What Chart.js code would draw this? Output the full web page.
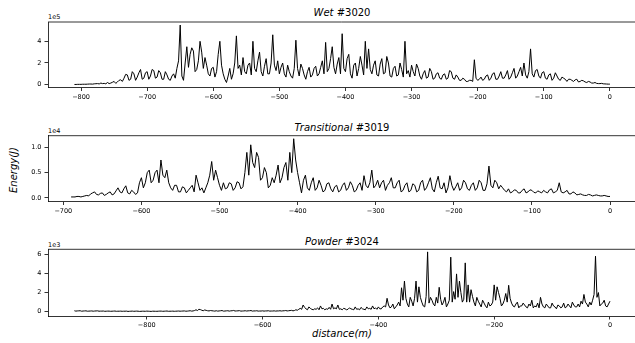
<!DOCTYPE html>
<html lang="en">
<head>
<meta charset="UTF-8">
<title>Energy vs distance</title>
<script src="https://cdn.jsdelivr.net/npm/chart.js"></script>
<style>
  body { margin:0; width:635px; height:343px; overflow:hidden; background:#fff; font-family:"DejaVu Sans", sans-serif; }
  .box { position:absolute; left:0; width:635px; }
  .txt { position:absolute; font-size:10px; line-height:10px; white-space:nowrap; color:#000; }
  .off { position:absolute; left:48px; font-size:6.5px; line-height:6.5px; color:#000; }
  i { font-style:italic; }
</style>
</head>
<body>
<div class="txt" style="left:48px;width:588px;text-align:center;top:8px"><i>Wet</i> #3020</div>
<div class="txt" style="left:48px;width:588px;text-align:center;top:123px"><i>Transitional</i> #3019</div>
<div class="txt" style="left:48px;width:588px;text-align:center;top:237px"><i>Powder</i> #3024</div>
<div class="txt" style="left:48px;width:588px;text-align:center;top:329px"><i>distance(m)</i></div>
<div class="txt" style="left:14px;top:170px;transform:translate(-50%,-50%) rotate(-90deg)"><i>Energy(J)</i></div>
<div class="off" style="top:14px">1e5</div>
<div class="off" style="top:128px">1e4</div>
<div class="off" style="top:242px">1e3</div>

<div class="box" style="top:0;height:110px"><canvas id="c1"></canvas></div>
<div class="box" style="top:113px;height:112px"><canvas id="c2"></canvas></div>
<div class="box" style="top:228px;height:100px"><canvas id="c3"></canvas></div>
<script>
// distances: first reading and spacing (m). *Energy = readings every 5 m,
// *Mid = readings half way between them (the trace is very jagged)
const wetStart = -810, transStart = -690, powderStart = -925, stepM = 5;

// Wet #3020, units of 1e5 J
const wetEnergy = [
  0.02,0.03,0.03,0.04,0.05,0.06,0.08,0.1,0.15,0.12,
  0.2,0.15,0.3,0.25,0.45,0.6,0.9,0.5,1.0,0.7,
  1.4,0.6,1.2,0.8,1.3,0.7,1.1,0.5,0.9,0.4,
  1.0,1.5,5.5,0.4,3.5,2.8,3.1,1.4,4.0,1.5,
  1.8,0.8,1.6,1.2,4.0,1.0,0.2,1.5,1.0,4.5,
  1.8,2.5,1.0,2.0,4.0,1.2,3.0,0.8,2.4,1.0,
  4.6,1.3,1.0,2.0,0.7,1.2,0.6,4.1,0.8,1.5,
  0.5,1.6,0.9,1.7,1.0,2.2,3.9,1.5,3.5,1.0,
  2.5,4.7,1.2,2.8,0.6,2.0,1.5,1.8,4.0,3.3,
  1.0,2.2,0.8,2.4,1.1,2.0,0.7,1.7,0.9,1.4,
  4.0,1.3,1.8,0.8,1.5,0.5,1.3,0.7,1.2,0.6,
  1.1,0.5,1.0,0.6,1.2,0.5,0.7,0.4,0.5,0.3,
  0.4,2.3,0.4,0.7,0.5,0.9,0.6,1.1,0.5,1.2,
  0.6,1.3,0.7,1.5,0.8,1.6,2.0,0.6,3.3,0.7,
  1.4,0.6,1.2,0.5,1.0,0.6,0.8,0.4,0.6,0.3,
  0.5,0.3,0.5,0.3,0.35,0.2,0.25,0.15,0.12,0.1,
  0.08,0.06,0.05
];
const wetMid = [
  0.02,0.03,0.04,0.04,0.06,0.05,0.09,0.07,0.1,0.08,
  0.1,0.22,0.12,0.4,0.3,0.95,0.4,1.2,0.4,1.1,
  0.5,1.1,0.5,1.4,0.6,1.3,0.5,1.2,0.5,0.8,
  0.6,2.2,0.8,2.0,1.6,3.4,1.2,2.2,3.0,2.5,
  1.0,1.5,0.7,2.8,1.8,0.5,0.8,0.5,2.0,1.5,
  0.9,1.2,1.8,0.9,1.5,2.2,1.2,1.7,1.0,2.0,
  1.8,2.2,1.6,1.0,1.8,0.8,1.5,1.5,1.9,0.9,
  1.2,0.7,1.5,0.8,1.6,1.0,1.2,2.4,1.6,1.9,
  1.0,1.5,2.4,1.0,1.8,0.8,2.6,0.9,1.5,1.4,
  1.8,0.9,1.9,1.0,2.6,0.8,1.5,0.8,2.0,0.7,
  1.0,0.7,1.2,1.9,0.8,1.0,0.6,1.5,0.5,1.0,
  0.6,0.9,0.5,1.3,0.6,0.9,0.4,0.6,0.3,0.4,
  0.3,0.6,0.5,0.4,0.8,0.4,1.0,0.5,0.8,0.6,
  0.9,0.5,1.1,0.6,1.2,0.8,0.9,1.2,1.0,1.3,
  0.8,1.1,0.6,0.9,0.4,1.1,0.5,0.7,0.5,0.5,
  0.4,0.45,0.25,0.4,0.25,0.3,0.15,0.2,0.1,0.12,
  0.07,0.05
];

// Transitional #3019, units of 1e4 J
const transEnergy = [
  0.02,0.02,0.03,0.03,0.05,0.08,0.12,0.06,0.1,0.07,
  0.12,0.08,0.2,0.1,0.24,0.08,0.12,0.1,0.4,0.3,
  0.55,0.35,0.55,0.75,0.4,0.3,0.15,0.25,0.12,0.2,
  0.15,0.25,0.45,0.15,0.1,0.3,0.72,0.55,0.25,0.3,
  0.2,0.28,0.2,0.3,0.22,0.9,1.05,0.6,0.8,0.4,
  0.5,0.25,0.3,0.65,0.4,0.7,0.9,1.17,0.5,0.1,
  0.45,0.15,0.4,0.2,0.25,0.15,0.3,0.12,0.25,0.15,
  0.3,0.2,0.25,0.15,0.3,0.44,0.2,0.55,0.25,0.2,
  0.35,0.25,0.4,0.2,0.35,0.15,0.3,0.15,0.25,0.15,
  0.35,0.2,0.4,0.12,0.43,0.18,0.1,0.44,0.15,0.3,
  0.2,0.3,0.15,0.3,0.2,0.3,0.15,0.63,0.2,0.3,
  0.25,0.15,0.18,0.12,0.15,0.1,0.18,0.12,0.15,0.1,
  0.12,0.15,0.1,0.18,0.12,0.3,0.1,0.15,0.08,0.1,
  0.07,0.06,0.05,0.06,0.05,0.05,0.04,0.04,0.03
];
const transMid = [
  0.02,0.03,0.02,0.04,0.04,0.1,0.07,0.09,0.05,0.1,
  0.06,0.14,0.12,0.18,0.1,0.15,0.07,0.3,0.2,0.5,
  0.3,0.5,0.3,0.45,0.55,0.2,0.25,0.12,0.22,0.1,
  0.2,0.12,0.3,0.2,0.2,0.45,0.35,0.4,0.15,0.18,
  0.3,0.15,0.32,0.18,0.5,0.45,0.7,0.9,0.35,0.6,
  0.2,0.4,0.45,0.3,0.6,0.35,0.5,0.75,0.3,0.35,
  0.2,0.3,0.15,0.35,0.12,0.28,0.18,0.22,0.12,0.25,
  0.15,0.32,0.12,0.25,0.15,0.25,0.3,0.2,0.35,0.3,
  0.15,0.3,0.2,0.3,0.12,0.25,0.12,0.28,0.12,0.3,
  0.15,0.3,0.18,0.3,0.2,0.3,0.2,0.25,0.22,0.15,
  0.35,0.18,0.25,0.15,0.35,0.15,0.28,0.25,0.35,0.18,
  0.2,0.12,0.1,0.16,0.1,0.15,0.1,0.16,0.11,0.14,
  0.1,0.12,0.16,0.1,0.15,0.12,0.12,0.08,0.12,0.06,
  0.08,0.05,0.07,0.04,0.06,0.04,0.05,0.03
];

// Powder #3024, units of 1e3 J
const powderEnergy = [
  0.1,0.08,0.1,0.07,0.09,0.06,0.08,0.07,0.09,0.06,
  0.07,0.05,0.06,0.05,0.07,0.05,0.06,0.05,0.06,0.04,
  0.06,0.05,0.05,0.04,0.05,0.06,0.04,0.05,0.04,0.05,
  0.06,0.05,0.07,0.05,0.06,0.05,0.07,0.06,0.08,0.06,
  0.1,0.08,
  0.2,0.25,0.15,0.18,0.1,0.12,0.08,
  0.1,0.08,0.12,0.07,0.1,0.09,0.13,0.08,0.11,0.07,
  0.1,0.09,0.12,0.08,0.1,0.07,0.09,0.08,0.1,0.07,
  0.09,0.08,0.1,0.09,0.12,0.1,0.14,0.12,0.15,
  0.35,0.7,0.3,0.5,0.25,0.3,0.4,0.6,0.35,0.3,
  0.45,0.8,0.4,0.7,0.3,0.35,0.2,0.4,0.25,0.5,
  0.3,0.45,0.25,0.5,0.35,0.6,0.4,0.5,
  0.3,0.6,1.4,0.4,0.8,0.5,1.0,2.5,3.2,0.8,
  1.5,0.6,3.2,2.6,1.0,0.5,6.25,1.5,0.8,1.5,
  2.55,0.7,1.5,0.8,5.7,2.1,3.95,3.2,1.0,5.1,
  2.8,2.3,1.0,1.5,0.8,1.2,0.6,1.0,0.7,2.8,
  2.6,1.4,0.8,1.9,2.76,0.9,0.5,1.0,0.6,0.9,
  0.5,0.8,1.2,0.6,0.9,1.5,0.5,0.8,0.4,0.9,
  0.5,0.7,0.4,0.9,0.5,0.6,1.0,0.5,0.8,1.1,
  1.8,0.8,1.0,1.2,5.8,2.0,0.8,1.2,0.5,1.1
];
const powderMid = [
  0.06,0.09,0.05,0.08,0.05,0.07,0.05,0.08,0.05,0.06,
  0.04,0.06,0.04,0.06,0.04,0.05,0.04,0.05,0.03,0.05,
  0.04,0.06,0.03,0.05,0.04,0.05,0.03,0.05,0.04,0.06,
  0.04,0.06,0.04,0.05,0.04,0.06,0.05,0.07,0.05,0.08,
  0.06,0.12,
  0.12,0.22,0.1,0.14,0.08,0.1,0.06,
  0.06,0.1,0.06,0.09,0.06,0.1,0.07,0.09,0.06,0.08,
  0.07,0.1,0.06,0.08,0.06,0.07,0.06,0.08,0.06,0.07,
  0.06,0.08,0.07,0.1,0.08,0.12,0.09,0.2,0.25,
  0.25,0.45,0.2,0.35,0.2,0.25,0.2,0.3,0.2,0.25,
  0.25,0.3,0.3,0.25,0.2,0.3,0.25,0.3,0.2,0.25,
  0.2,0.3,0.2,0.3,0.25,0.3,0.25,0.3,
  0.5,0.5,0.7,0.5,0.3,0.7,0.6,1.2,1.4,0.5,
  1.1,1.4,1.0,1.5,0.6,1.6,0.9,1.2,0.6,0.9,
  1.3,1.0,0.5,1.2,1.0,1.3,1.5,2.0,1.3,1.0,
  1.0,1.6,0.6,1.1,0.5,0.9,0.4,0.6,1.0,1.2,
  2.0,0.6,1.2,1.0,1.4,0.6,0.8,0.4,0.6,0.7,
  0.4,0.6,0.4,0.5,0.4,0.8,0.4,0.6,0.4,0.6,
  0.3,0.6,0.5,0.4,0.8,0.4,0.7,0.5,0.5,0.8,
  1.0,0.5,0.7,1.8,1.5,0.6,0.9,0.6,0.8
];

// tick values / labels
const wetXTicks = [-800,-700,-600,-500,-400,-300,-200,-100,0];
const transXTicks = [-700,-600,-500,-400,-300,-200,-100,0];
const powderXTicks = [-800,-600,-400,-200,0];
const wetYTicks = [0,2,4], wetYLabels = ['0','2','4'];
const transYTicks = [0,0.5,1.0], transYLabels = ['0.0','0.5','1.0'];
const powderYTicks = [0,2,4,6], powderYLabels = ['0','2','4','6'];

const FONT = { family:'DejaVu Sans', size:6.5 };

// matplotlib style top spine
const topSpine = {
  id:'topSpine',
  afterDraw(chart){
    const c = chart.ctx, a = chart.chartArea;
    c.save();
    c.strokeStyle = '#000'; c.lineWidth = 0.8;
    c.beginPath(); c.moveTo(a.left, a.top); c.lineTo(a.right, a.top); c.stroke();
    c.restore();
  }
};

// readings + half-way readings -> one {x,y} list
function toPoints(start, vals, mids){
  const pts = [];
  vals.forEach((v,i) => {
    pts.push({ x: start + i*stepM, y: v });
    if (i < mids.length) pts.push({ x: start + i*stepM + stepM/2, y: mids[i] });
  });
  return pts;
}

function makePanel(id, pts, xTicks, yTicks, yLabels, xr, yr, padTop, xAxisH){
  const tickGrid = { display:true, drawOnChartArea:false, drawTicks:true, tickLength:3.5, color:'#000', lineWidth:0.8 };
  return new Chart(document.getElementById(id), {
    type:'line',
    data:{ datasets:[{ data:pts, borderColor:'#000', borderWidth:1, pointRadius:0, tension:0, fill:false }] },
    options:{
      responsive:true, maintainAspectRatio:false, animation:false, devicePixelRatio:1,
      layout:{ padding:{ top:padTop, left:0, right:0, bottom:0 } },
      plugins:{ legend:{display:false}, tooltip:{enabled:false} },
      scales:{
        x:{
          type:'linear', min:xr[0], max:xr[1],
          grid:tickGrid, border:{display:true, color:'#000', width:0.8},
          afterBuildTicks: s => { s.ticks = xTicks.map(v => ({value:v})); },
          afterFit: s => { s.height = xAxisH; },
          ticks:{ font:FONT, color:'#000', padding:2, maxRotation:0, autoSkip:false,
                  callback: v => String(v).replace('-', '\u2212') }
        },
        y:{
          type:'linear', min:yr[0], max:yr[1],
          grid:tickGrid, border:{display:true, color:'#000', width:0.8},
          afterBuildTicks: s => { s.ticks = yTicks.map(v => ({value:v})); },
          afterFit: s => { s.width = 48; },
          ticks:{ font:FONT, color:'#000', padding:3, autoSkip:false,
                  callback: v => yLabels[yTicks.indexOf(v)] }
        }
      }
    },
    plugins:[topSpine]
  });
}

makePanel('c1', toPoints(wetStart, wetEnergy, wetMid), wetXTicks, wetYTicks, wetYLabels, [-850, 38], [-0.26, 5.78], 22, 22.5);
makePanel('c2', toPoints(transStart, transEnergy, transMid), transXTicks, transYTicks, transYLabels, [-719.6, 32], [-0.07, 1.23], 22.7, 23.5);
makePanel('c3', toPoints(powderStart, powderEnergy, powderMid), powderXTicks, powderYTicks, powderYLabels, [-970.6, 43.2], [-0.45, 6.52], 21.3, 12);
</script>
</body>
</html>
